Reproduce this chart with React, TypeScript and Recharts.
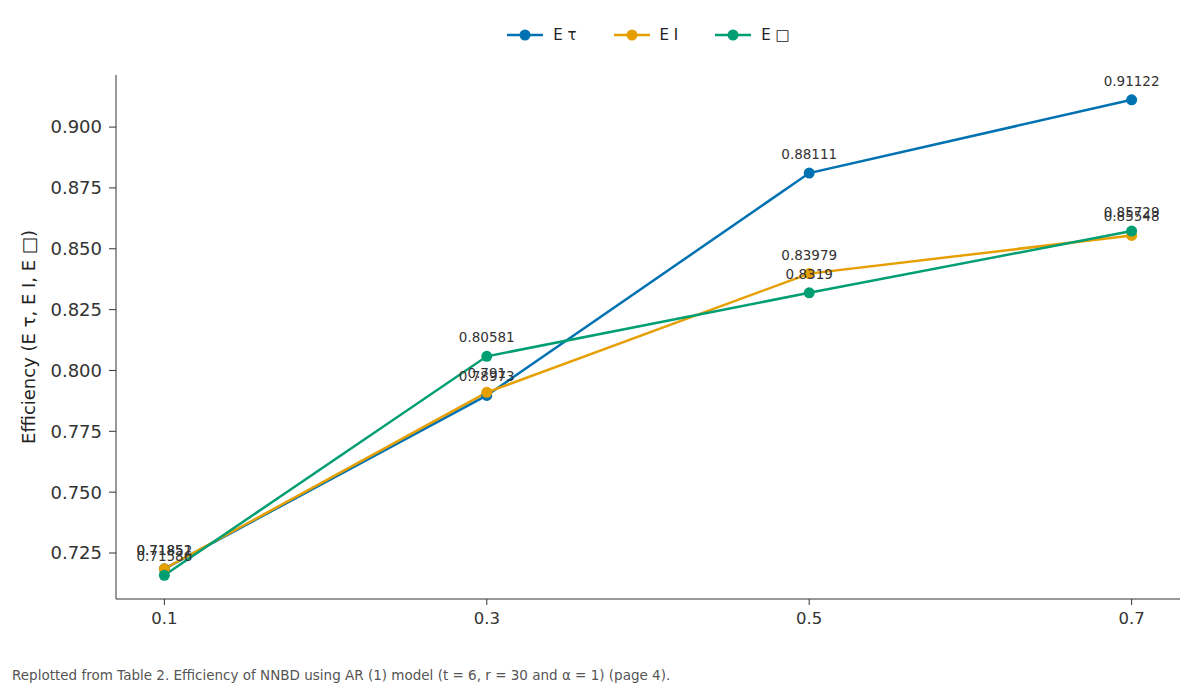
import React from 'react'
import { LineChart, Line, XAxis, YAxis, Legend, LabelList } from 'recharts'

// sample proportion on the x axis
const rhoValues = [0.1, 0.3, 0.5, 0.7]

// efficiency of each estimator
const eTau = [0.71851, 0.78973, 0.88111, 0.91122]
const eI = [0.71852, 0.791, 0.83979, 0.85548]
const eBox = [0.71586, 0.80581, 0.8319, 0.85729]

const xTicks = [0.1, 0.3, 0.5, 0.7]
const yTicks = [0.725, 0.75, 0.775, 0.8, 0.825, 0.85, 0.875, 0.9]

const FONT = '"DejaVu Sans", sans-serif'

const series = [
  { key: 'eTau', name: 'E τ', color: '#0072B2' },
  { key: 'eI', name: 'E I', color: '#E69F00' },
  { key: 'eBox', name: 'E \u25A1', color: '#009E73' },
]

const data = rhoValues.map((x, i) => ({
  x,
  eTau: eTau[i],
  eI: eI[i],
  eBox: eBox[i],
}))

const LegendContent = () => (
  <div style={{ display: 'flex', justifyContent: 'center', fontFamily: FONT, fontSize: 15, color: '#222', height: 18 }}>
    {series.map((s) => (
      <div key={s.key} style={{ display: 'flex', alignItems: 'center', margin: '0 18px' }}>
        <svg width={38} height={14} style={{ marginRight: 9 }}>
          <line x1={1} y1={7} x2={37} y2={7} stroke={s.color} strokeWidth={2.5} />
          <circle cx={19} cy={7} r={5.5} fill={s.color} />
        </svg>
        <span>{s.name}</span>
      </div>
    ))}
  </div>
)

const App = () => {
  return (
    <div style={{ position: 'absolute', left: 0, top: 0, width: 1200, height: 690, background: '#fff' }}>
      <LineChart width={1200} height={690} data={data} margin={{ top: 57, right: 20, bottom: 51, left: 0 }}>
        <Legend
          verticalAlign="top"
          height={18}
          content={<LegendContent />}
          wrapperStyle={{ top: 26, left: 116, width: 1064 }}
        />
        <XAxis
          dataKey="x"
          type="number"
          domain={[0.07, 0.73]}
          ticks={xTicks}
          height={40}
          stroke="#333"
          tickSize={6}
          tickMargin={7}
          tick={{ fill: '#333', fontSize: 16.5, fontFamily: FONT }}
          tickFormatter={(v: number) => String(v)}
        />
        <YAxis
          type="number"
          domain={[0.7061, 0.9214]}
          ticks={yTicks}
          width={116}
          stroke="#333"
          tickSize={7}
          tickMargin={7}
          tick={{ fill: '#333', fontSize: 18, fontFamily: FONT }}
          tickFormatter={(v: number) => v.toFixed(3)}
          allowDataOverflow
          label={{
            value: 'Efficiency (E τ, E I, E \u25A1)',
            angle: -90,
            position: 'insideLeft',
            dx: 24,
            style: { textAnchor: 'middle', fill: '#222', fontSize: 18, fontFamily: FONT },
          }}
        />
        {series.map((s) => (
          <Line
            key={s.key}
            type="linear"
            dataKey={s.key}
            name={s.name}
            stroke={s.color}
            strokeWidth={2.5}
            dot={{ r: 5.5, fill: s.color, stroke: s.color, strokeWidth: 0 }}
            isAnimationActive={false}
          >
            <LabelList
              dataKey={s.key}
              position="top"
              offset={14}
              style={{ fill: '#333', fontSize: 13.5, fontFamily: FONT }}
            />
          </Line>
        ))}
      </LineChart>
      <div
        style={{
          position: 'absolute',
          left: 12,
          top: 667,
          fontFamily: FONT,
          fontSize: 13.5,
          color: '#555',
        }}
      >
        Replotted from Table 2. Efficiency of NNBD using AR (1) model (t = 6, r = 30 and α = 1) (page 4).
      </div>
    </div>
  )
}

export default App
